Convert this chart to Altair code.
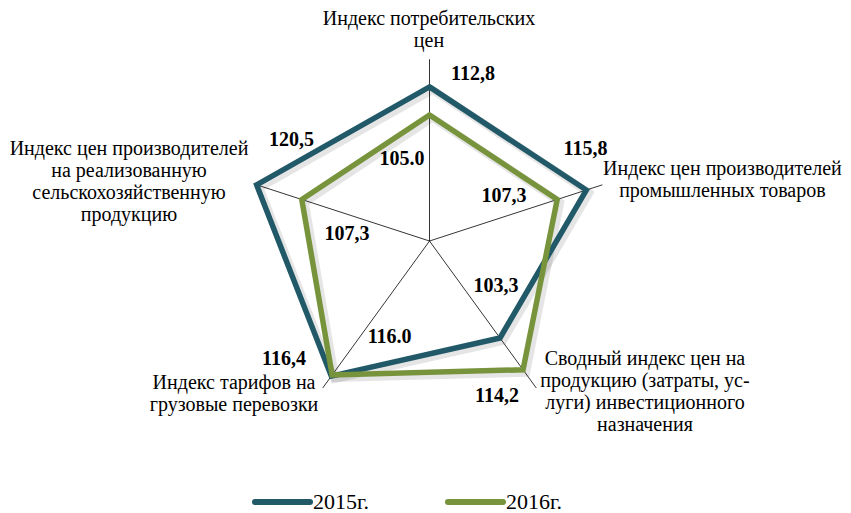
import altair as alt
import pandas as pd

# ---------------- data ----------------
CATEGORIES = [
    "Индекс потребительских\nцен",
    "Индекс цен производителей\nпромышленных товаров",
    "Сводный индекс цен на\nпродукцию (затраты, ус-\nлуги) инвестиционного\nназначения",
    "Индекс тарифов на\nгрузовые перевозки",
    "Индекс цен производителей\nна реализованную\nсельскохозяйственную\nпродукцию",
]
SERIES = ["2015г.", "2016г."]
VALUES_2015 = [112.8, 115.8, 103.3, 116.4, 120.5]
VALUES_2016 = [105.0, 107.3, 114.2, 116.0, 107.3]
LABELS_2015 = ["112,8", "115,8", "103,3", "116,4", "120,5"]
LABELS_2016 = ["105.0", "107,3", "114,2", "116.0", "107,3"]

# ---------------- layout / style ----------------
AXIS_MIN, AXIS_MAX = 70.0, 120.5
K = 3.6                      # pixels per index unit on the radial scale
W, H = 835, 505
CX, CY = 421.5, 233.0        # centre of the radar inside the plot
COLORS = ["#215968", "#77933C"]
FONT = "Liberation Serif"

LABEL_OFFSETS = {
    "2015г.": [(43.5, -6.9), (-0.8, -35.1), (-4.0, -46.3), (-47.3, -11.1), (34.9, -38.8)],
    "2016г.": [(-27.5, 50.0), (-53.2, 2.2), (-26.0, 32.0), (57.5, -31.7), (45.2, 40.5)],
}
CAT_OFFSETS = [(-0.5, -34.2), (120.0, -9.8), (108.6, -23.1), (-88.6, 0.9), (-127.6, -29.8)]
# legend layout (plot px)
LEG_X0, LEG_STEP, LEG_LEN, LEG_Y = 247.0, 193.0, 55.0, 494.0

X_DOMAIN = [-CX / K, (W - CX) / K]
Y_DOMAIN = [-(H - CY) / K, CY / K]
xs = alt.Scale(domain=X_DOMAIN, nice=False, zero=False)
ys = alt.Scale(domain=Y_DOMAIN, nice=False, zero=False)
cs = alt.Scale(domain=SERIES, range=COLORS)

rows = []
for s, vals, labs in [(SERIES[0], VALUES_2015, LABELS_2015), (SERIES[1], VALUES_2016, LABELS_2016)]:
    for i, (v, lab) in enumerate(zip(vals, labs)):
        ox, oy = LABEL_OFFSETS[s][i]
        rows.append({"series": s, "idx": i, "value": v, "label": lab, "ox": ox, "oy": oy})
series_df = pd.DataFrame(rows)

cat_df = pd.DataFrame({
    "idx": list(range(len(CATEGORIES))),
    "category": CATEGORIES,
    "ox": [o[0] for o in CAT_OFFSETS],
    "oy": [o[1] for o in CAT_OFFSETS],
})
leg_df = pd.DataFrame({"series": SERIES, "i": list(range(len(SERIES)))})

ANG = f"PI/2 - datum.idx*2*PI/{len(CATEGORIES)}"

spokes = alt.Chart(cat_df).transform_calculate(
    ang=ANG, x0="0", y0="0",
    x1=f"({AXIS_MAX}-{AXIS_MIN})*cos(datum.ang)",
    y1=f"({AXIS_MAX}-{AXIS_MIN})*sin(datum.ang)",
).mark_rule(color="black", strokeWidth=0.8).encode(
    x=alt.X("x0:Q", scale=xs, axis=None),
    y=alt.Y("y0:Q", scale=ys, axis=None),
    x2="x1:Q", y2="y1:Q",
)

base = alt.Chart(series_df).transform_calculate(
    ang=ANG,
    px=f"(datum.value-{AXIS_MIN})*cos(datum.ang)",
    py=f"(datum.value-{AXIS_MIN})*sin(datum.ang)",
)

shadow = base.mark_line(
    interpolate="linear-closed", strokeWidth=8, strokeJoin="miter",
    color="#000000", opacity=0.1, xOffset=3, yOffset=3,
).encode(
    x=alt.X("px:Q", scale=xs, axis=None),
    y=alt.Y("py:Q", scale=ys, axis=None),
    detail="series:N", order="idx:Q",
)

lines = base.mark_line(
    interpolate="linear-closed", strokeWidth=5.5, strokeJoin="miter",
).encode(
    x=alt.X("px:Q", scale=xs, axis=None),
    y=alt.Y("py:Q", scale=ys, axis=None),
    color=alt.Color("series:N", scale=cs, legend=None),
    order="idx:Q",
)

value_labels = base.transform_calculate(
    lx=f"datum.px + datum.ox/{K}",
    ly=f"datum.py - datum.oy/{K}",
).mark_text(
    font=FONT, fontSize=20, fontWeight="bold", color="black",
    align="center", baseline="alphabetic",
).encode(
    x=alt.X("lx:Q", scale=xs, axis=None),
    y=alt.Y("ly:Q", scale=ys, axis=None),
    text="label:N",
)

cat_labels = alt.Chart(cat_df).transform_calculate(
    ang=ANG,
    lx=f"({AXIS_MAX}-{AXIS_MIN})*cos(datum.ang) + datum.ox/{K}",
    ly=f"({AXIS_MAX}-{AXIS_MIN})*sin(datum.ang) - datum.oy/{K}",
).mark_text(
    font=FONT, fontSize=20, color="black", align="center",
    baseline="alphabetic", lineBreak="\n", lineHeight=22,
).encode(
    x=alt.X("lx:Q", scale=xs, axis=None),
    y=alt.Y("ly:Q", scale=ys, axis=None),
    text="category:N",
)

leg_base = alt.Chart(leg_df).transform_calculate(
    x0=f"({LEG_X0} + datum.i*{LEG_STEP} - {CX})/{K}",
    x1=f"({LEG_X0} + datum.i*{LEG_STEP} + {LEG_LEN} - {CX})/{K}",
    xt=f"({LEG_X0} + datum.i*{LEG_STEP} + {LEG_LEN} + 3 - {CX})/{K}",
    yl=f"({CY} - {LEG_Y})/{K}",
)
leg_lines = leg_base.mark_rule(strokeWidth=6, strokeCap="round").encode(
    x=alt.X("x0:Q", scale=xs, axis=None),
    x2="x1:Q",
    y=alt.Y("yl:Q", scale=ys, axis=None),
    color=alt.Color("series:N", scale=cs, legend=None),
)
leg_text = leg_base.mark_text(
    font=FONT, fontSize=22, color="black", align="left", baseline="middle",
).encode(
    x=alt.X("xt:Q", scale=xs, axis=None),
    y=alt.Y("yl:Q", scale=ys, axis=None),
    text="series:N",
)

chart = alt.layer(
    spokes, shadow, lines, value_labels, cat_labels, leg_lines, leg_text
).properties(
    width=W, height=H, padding=0, background="white",
    autosize=alt.AutoSizeParams(type="none"),
).configure_view(stroke=None)

chart.save("out.html", embed_options={"renderer": "svg", "actions": False})
